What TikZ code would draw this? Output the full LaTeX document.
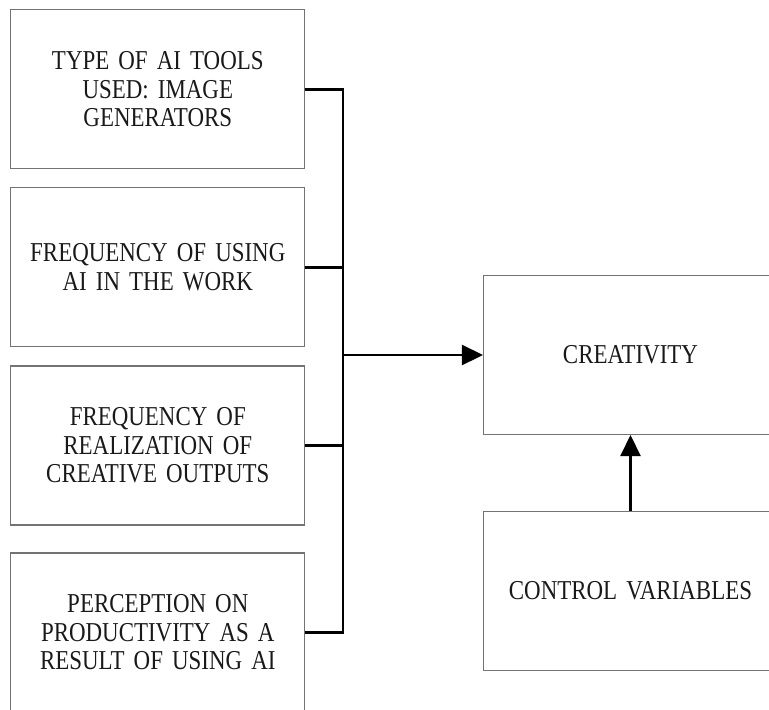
\documentclass[tikz,border=0pt]{standalone}
\usepackage{fontspec}
\setmainfont{Liberation Serif}
\newfontfamily\narrowserif[FakeStretch=0.84]{Liberation Serif}
\usetikzlibrary{arrows.meta}
\begin{document}
\begin{tikzpicture}[x=1pt,y=-1pt,
  box/.style={draw=black!55,line width=1.1pt,minimum width=294pt,minimum height=159pt,
    inner sep=0pt,align=center,text width=288pt,font=\narrowserif\fontsize{27.3}{28.5}\selectfont,text=black!90},
  conn/.style={line width=2.6pt,black},
  arr/.style={conn,-{Triangle[length=21pt,width=20pt]}}]
\useasboundingbox (0,0) rectangle (769,710);
\node[box] (b1) at (157.8,89.3) {TYPE OF AI TOOLS\\USED: IMAGE\\GENERATORS};
\node[box] (b2) at (157.8,267.3) {FREQUENCY OF USING\\AI IN THE WORK};
\node[box] (b3) at (157.8,445.5) {FREQUENCY OF\\REALIZATION OF\\CREATIVE OUTPUTS};
\node[box] (b4) at (157.8,632.5) {PERCEPTION ON\\PRODUCTIVITY AS A\\RESULT OF USING AI};
\node[box] (cr) at (630.5,355) {CREATIVITY};
\node[box] (cv) at (630.5,591) {CONTROL VARIABLES};
\coordinate (bx) at (343,0);
\draw[conn] (b1.east) -- (b1.east -| bx) -- (b4.east -| bx) -- (b4.east);
\draw[conn] (b2.east) -- (b2.east -| bx);
\draw[conn] (b3.east) -- (b3.east -| bx);
\draw[arr] (cr.west -| bx) -- (cr.west);
\draw[arr] (cv.north) -- (cr.south);
\end{tikzpicture}
\end{document}
